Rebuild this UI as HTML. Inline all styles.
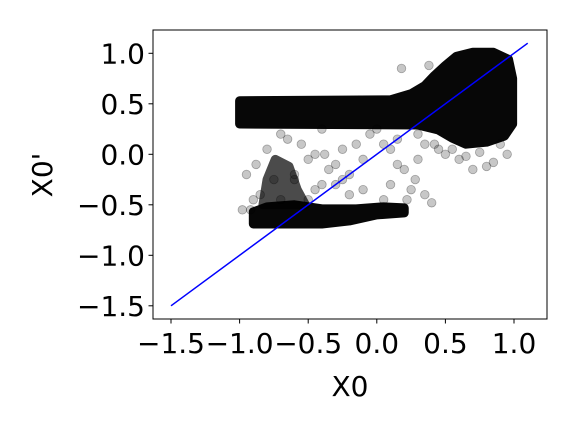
<!DOCTYPE html>
<html><head><meta charset="utf-8"><style>
html,body{margin:0;padding:0;background:#fff;}
svg{display:block;font-family:"DejaVu Sans","Liberation Sans",sans-serif;}
</style></head><body>
<svg id="chart" width="576" height="432" viewBox="0 0 576 432">
<g id="dense"></g>
<g id="pts"></g>
<line id="fit" stroke="#0000ff" stroke-width="1.5"/>
<rect x="153" y="30" width="394" height="289" fill="none" stroke="#000" stroke-width="1"/>
<g id="xt"></g>
<g id="yt"></g>
<text x="350" y="396" font-size="28" text-anchor="middle">X0</text>
<text x="52" y="175" font-size="28" text-anchor="middle" transform="rotate(-90 52 175)">X0'</text>
</svg>
<script>
const xTicks=[-1.5,-1.0,-0.5,0.0,0.5,1.0];
const yTicks=[1.0,0.5,0.0,-0.5,-1.0,-1.5];
const lineEnds=[[-1.5,-1.5],[1.1,1.1]];
const upperBand=[[-1.0,0.53],[0.1,0.54],[0.25,0.6],[0.35,0.68],[0.42,0.78],[0.5,0.88],[0.58,0.97],[0.7,1.01],[0.85,1.01],[0.96,0.94],[0.99,0.75],[0.99,0.3],[0.93,0.18],[0.8,0.12],[0.65,0.1],[0.55,0.16],[0.45,0.24],[0.3,0.29],[-1.0,0.3]];
const lowerBand=[[-0.9,-0.57],[-0.8,-0.52],[-0.6,-0.5],[-0.4,-0.54],[-0.15,-0.54],[0.05,-0.52],[0.2,-0.53],[0.2,-0.58],[0.0,-0.6],[-0.2,-0.66],[-0.4,-0.69],[-0.9,-0.69]];
const blob=[[-0.83,-0.5],[-0.8,-0.25],[-0.74,-0.05],[-0.64,-0.12],[-0.58,-0.35],[-0.52,-0.5]];
const ptsX=[-0.95,-0.88,-0.8,-0.75,-0.9,-0.7,-0.65,-0.55,-0.5,-0.45,-0.4,-0.35,-0.3,-0.25,-0.2,-0.15,-0.1,-0.05,0.0,0.05,0.1,0.15,0.2,0.25,0.3,0.35,-0.6,-0.45,-0.3,-0.2,0.1,0.22,0.28,0.35,0.4,0.45,0.5,0.6,0.7,0.75,0.85,0.9,0.95,0.55,0.65,0.8,-0.98,-0.92,-0.85,-0.5,-0.4,0.05,0.15,0.3,0.42,-0.1,-0.25,-0.38,-0.7,-0.6,0.18,0.38];
const ptsY=[-0.2,-0.1,0.05,-0.25,-0.45,0.2,0.15,0.1,-0.05,0.0,0.25,-0.15,-0.3,0.05,-0.2,0.1,-0.05,0.2,0.25,0.1,-0.3,-0.1,-0.15,-0.35,-0.05,0.1,-0.25,-0.35,-0.1,-0.4,0.05,-0.45,-0.25,-0.4,-0.48,0.05,0.0,-0.05,-0.15,0.02,-0.08,0.1,0.0,0.05,-0.02,-0.12,-0.55,-0.55,-0.4,-0.45,-0.3,-0.45,0.15,0.2,0.1,-0.35,-0.25,0.0,-0.45,-0.2,0.85,0.88];
const NS='http://www.w3.org/2000/svg';
const X=v=>376.8+v*137.2, Y=v=>154.3-v*101;
function mk(t,a,p){const e=document.createElementNS(NS,t);for(const k in a)e.setAttribute(k,a[k]);p.appendChild(e);return e;}
const dense=document.getElementById('dense');
[upperBand,lowerBand,blob].forEach((poly,i)=>{
 const e=mk('polygon',{points:poly.map(p=>X(p[0])+','+Y(p[1])).join(' '),fill:'#000',stroke:'#000','stroke-width':9,'stroke-linejoin':'round',opacity:i==2?0.7:0.97},dense);
 
 
});
const pts=document.getElementById('pts');
ptsX.forEach((x,i)=>{
 const c=mk('circle',{cx:X(x),cy:Y(ptsY[i]),r:4.3,fill:'rgba(0,0,0,0.22)',stroke:'rgba(0,0,0,0.3)','stroke-width':0.8},pts);
 
 
});
const f=document.getElementById('fit');
f.setAttribute('x1',X(lineEnds[0][0]));f.setAttribute('y1',Y(lineEnds[0][1]));
f.setAttribute('x2',X(lineEnds[1][0]));f.setAttribute('y2',Y(lineEnds[1][1]));
const xt=document.getElementById('xt'),yt=document.getElementById('yt');
const fmt=v=>(v<0?'\u2212':'')+Math.abs(v).toFixed(1);
xTicks.forEach(v=>{
 const l=mk('line',{x1:X(v),x2:X(v),y1:319,y2:323.5,stroke:'#000'},xt);
 
 
 const t=mk('text',{x:X(v),y:353,'font-size':28,'text-anchor':'middle'},xt);t.textContent=fmt(v);
 
 
});
yTicks.forEach(v=>{
 const l=mk('line',{x1:148.5,x2:153,y1:Y(v),y2:Y(v),stroke:'#000'},yt);
 
 
 const t=mk('text',{x:145,y:Y(v)+10,'font-size':28,'text-anchor':'end'},yt);t.textContent=fmt(v);
 
 
});
</script>
</body></html>
